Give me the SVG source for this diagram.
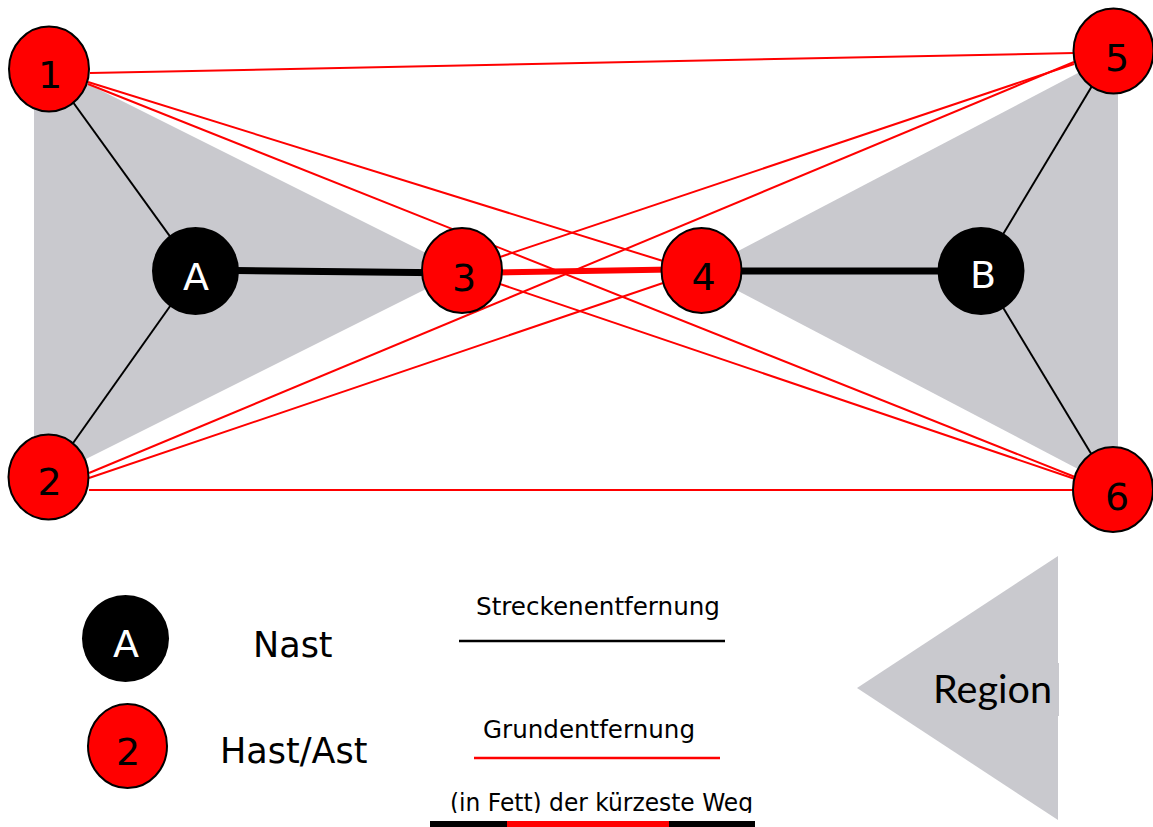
<svg xmlns="http://www.w3.org/2000/svg" width="1153" height="827" viewBox="0 0 1153 827">
<style>
.region{fill:#c9c9ce}
.thin{stroke:#000;stroke-width:2;fill:none}
.thick{stroke:#000;stroke-width:7;fill:none}
.red{stroke:#ff0000;stroke-width:2;fill:none}
.redthick{stroke:#ff0000;stroke-width:6;fill:none}
.hast{fill:#ff0000;stroke:#000;stroke-width:2}
.nast{fill:#000}
.lbl{font-family:"DejaVu Sans","Liberation Sans",sans-serif;font-size:38px;text-anchor:middle}
.lblw{fill:#fff}
.leg{font-family:"DejaVu Sans","Liberation Sans",sans-serif;font-size:35px;fill:#000}
.small{font-family:"DejaVu Sans","Liberation Sans",sans-serif;font-size:24px;fill:#000}
</style>
<defs>
<clipPath id="cut"><rect x="400" y="780" width="400" height="33"/></clipPath>
</defs>
<g id="regions">
<polygon class="region" points="34,57 462,271 34,485"/>
<polygon class="region" points="1118,52 700,271 1118,490"/>
</g>
<g id="connectors">
<line class="thin" x1="49" y1="69" x2="195" y2="271"/>
<line class="thin" x1="49" y1="477" x2="195" y2="271"/>
<line class="thin" x1="1113" y1="51" x2="981" y2="271"/>
<line class="thin" x1="1113" y1="490" x2="981" y2="271"/>
<line class="thick" x1="195" y1="270" x2="462" y2="273"/>
<line class="thick" x1="702" y1="271" x2="981" y2="271"/>
<line class="red" x1="90" y1="73" x2="1074" y2="53"/>
<line class="red" x1="88" y1="82" x2="663" y2="261"/>
<line class="red" x1="88" y1="84" x2="1075" y2="477"/>
<line class="red" x1="89" y1="490" x2="1074" y2="490"/>
<line class="red" x1="89" y1="473" x2="1074" y2="62"/>
<line class="red" x1="89" y1="478" x2="663" y2="283"/>
<line class="red" x1="500" y1="257" x2="1074" y2="64"/>
<line class="red" x1="500" y1="284" x2="1075" y2="479"/>
<line class="redthick" x1="462" y1="273" x2="702" y2="269"/>
</g>
<g id="node-1"><ellipse class="hast" cx="49" cy="69" rx="40" ry="42.5"/><text class="lbl" x="50" y="88">1</text></g>
<g id="node-2"><ellipse class="hast" cx="48.5" cy="477" rx="40" ry="42.5"/><text class="lbl" x="49.5" y="495">2</text></g>
<g id="node-3"><ellipse class="hast" cx="462" cy="270.5" rx="40" ry="42.5"/><text class="lbl" x="464" y="291">3</text></g>
<g id="node-4"><ellipse class="hast" cx="701.5" cy="270.5" rx="40" ry="42.5"/><text class="lbl" x="703.5" y="290">4</text></g>
<g id="node-5"><ellipse class="hast" cx="1113.5" cy="51" rx="40" ry="42.5"/><text class="lbl" x="1117" y="71">5</text></g>
<g id="node-6"><ellipse class="hast" cx="1113" cy="489.5" rx="40" ry="42.5"/><text class="lbl" x="1117" y="510">6</text></g>
<g id="node-A"><ellipse class="nast" cx="195.5" cy="271" rx="43.5" ry="44"/><text class="lbl lblw" x="196" y="290">A</text></g>
<g id="node-B"><ellipse class="nast" cx="981" cy="271" rx="43.5" ry="44"/><text class="lbl lblw" x="983" y="288">B</text></g>
<g id="legend">
<ellipse class="nast" cx="125.5" cy="638.5" rx="43.5" ry="43.5"/>
<text class="lbl lblw" x="126" y="657">A</text>
<text class="leg" x="253" y="657">Nast</text>
<ellipse class="hast" cx="127.5" cy="746" rx="39.5" ry="42"/>
<text class="lbl" x="128" y="765">2</text>
<text class="leg" x="220" y="763">Hast/Ast</text>
<text class="small" x="476" y="615" textLength="244" lengthAdjust="spacingAndGlyphs">Streckenentfernung</text>
<line x1="459" y1="641" x2="725" y2="641" stroke="#000" stroke-width="2.5"/>
<text class="small" x="483" y="738" textLength="212" lengthAdjust="spacingAndGlyphs">Grundentfernung</text>
<line x1="474" y1="758" x2="720" y2="758" stroke="#ff0000" stroke-width="2.5"/>
<text class="small" x="450" y="811" textLength="303" lengthAdjust="spacingAndGlyphs" clip-path="url(#cut)">(in Fett) der kürzeste Weg</text>
<rect x="430" y="821" width="77" height="6" fill="#000"/>
<rect x="507" y="821" width="162" height="6" fill="#ff0000"/>
<rect x="669" y="821" width="86" height="6" fill="#000"/>
<polygon class="region" points="857,688 1058,556 1058,820"/>
<rect class="region" x="908" y="663" width="151" height="53"/>
<text x="933" y="703" textLength="119" lengthAdjust="spacingAndGlyphs" style="font-family:Lato,'DejaVu Sans',sans-serif;font-size:38px;fill:#000">Region</text>
</g>
</svg>
